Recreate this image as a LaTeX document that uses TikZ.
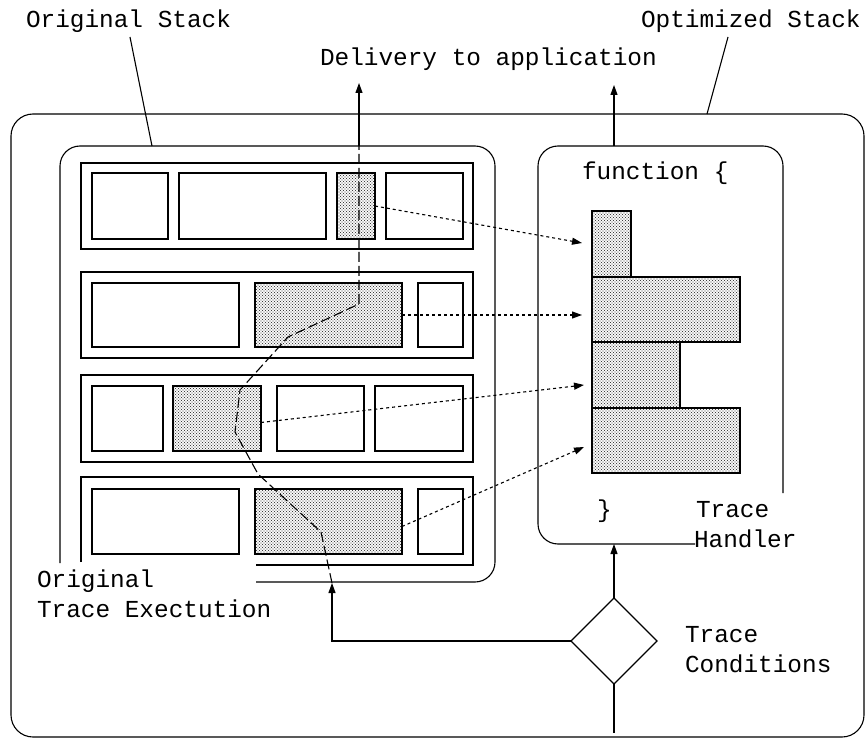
\documentclass[tikz,border=0pt]{standalone}
\usepackage{fontspec}
\setmainfont{Liberation Mono}
\usetikzlibrary{arrows.meta,shapes.geometric,patterns,fit}
\pgfdeclarepatternformonly{stipple}{\pgfqpoint{-0.7pt}{-0.7pt}}{\pgfqpoint{3.7pt}{3.7pt}}{\pgfqpoint{3pt}{3pt}}{%
  \pgfpathcircle{\pgfqpoint{0pt}{0pt}}{0.55pt}%
  \pgfpathcircle{\pgfqpoint{1.5pt}{1.5pt}}{0.55pt}%
  \pgfusepath{fill}}
\begin{document}
\begin{tikzpicture}[x=1pt,y=-1pt,
  line width=1.1pt,
  every node/.style={inner sep=0pt,outer sep=0pt},
  lbl/.style={anchor=base west,font=\fontsize{24.4}{30}\selectfont},
  box/.style={draw,fill=white},
  shd/.style={draw,pattern=stipple,pattern color=black!75},
  arr/.style={-{Triangle[length=10pt,width=7pt]}},
  dotarr/.style={arr,dash pattern=on 3pt off 3pt},
  trace/.style={dash pattern=on 10pt off 4pt},
]
\useasboundingbox (0,0) rectangle (867,738);

% outer frame
\node[draw,rounded corners=22pt,fit={(11,114)(864,737)}] (outer) {};

% original stack container (open at bottom left)
\draw[rounded corners=20pt] (60,563) -- (60,146) -- (495,146) -- (495,582) -- (256,582);
% trace handler container (open at bottom right)
\draw[rounded corners=20pt] (783,493) -- (783,146) -- (538,146) -- (538,544) -- (695,544);

% row frames
\node[draw,fit={(81,163)(473,249)}] (row1) {};
\node[draw,fit={(81,272)(473,358)}] (row2) {};
\node[draw,fit={(81,375)(473,462)}] (row3) {};
\draw (81,562) -- (81,477) -- (473,477) -- (473,565) -- (256,565);

% row 1
\node[box,fit={(92,173)(168,239)}] (r1a) {};
\node[box,fit={(179,173)(326,239)}] (r1b) {};
\node[shd,fit={(337,173)(375,239)}] (r1c) {};
\node[box,fit={(386,173)(463,239)}] (r1d) {};
% row 2
\node[box,fit={(92,283)(239,347)}] (r2a) {};
\node[shd,fit={(255,283)(402,347)}] (r2b) {};
\node[box,fit={(418,283)(463,347)}] (r2c) {};
% row 3
\node[box,fit={(92,386)(163,451)}] (r3a) {};
\node[shd,fit={(173,386)(261,451)}] (r3b) {};
\node[box,fit={(277,386)(364,451)}] (r3c) {};
\node[box,fit={(375,386)(463,451)}] (r3d) {};
% row 4
\node[box,fit={(92,489)(239,554)}] (r4a) {};
\node[shd,fit={(255,489)(402,554)}] (r4b) {};
\node[box,fit={(418,489)(463,554)}] (r4c) {};

% optimized blocks
\node[shd,fit={(592,211)(631,277)}] (b1) {};
\node[shd,fit={(592,277)(740,342)}] (b2) {};
\node[shd,fit={(592,342)(680,408)}] (b3) {};
\node[shd,fit={(592,408)(740,473)}] (b4) {};

% labels
\node[lbl] (lOS) at (26,28) {Original Stack};
\node[lbl] (lDel) at (320,66) {Delivery to application};
\node[lbl] (lOpt) at (641,28) {Optimized Stack};
\node[lbl] (lFn) at (582,180) {function \{};
\node[lbl] (lBr) at (597,517) {\}};
\node[lbl] (lTH1) at (696,517) {Trace};
\node[lbl] (lTH2) at (694,547) {Handler};
\node[lbl] (lTC1) at (685,642) {Trace};
\node[lbl] (lTC2) at (685,672) {Conditions};
\node[lbl] (lOT1) at (37,587) {Original};
\node[lbl] (lOT2) at (37,617) {Trace Exectution};

% coordinates
\coordinate (osLs) at (130,37);
\coordinate (osL) at (152,146);
\coordinate (opLs) at (728,37);
\coordinate (opL) at (707,114);
\coordinate (osTop) at (359,146);
\coordinate (dlvTip) at (359,83);
\coordinate (hTop) at (614,146);
\coordinate (hTip) at (614,85);
\coordinate (hBot) at (614,544);
\coordinate (condIn) at (614,733);
\coordinate (execEnd) at (332,583);
\coordinate (t1) at (582,243);
\coordinate (t2) at (582,315);
\coordinate (t3) at (584,385);
\coordinate (t4) at (584,447);

% leader lines
\draw (osLs) -- (osL);
\draw (opLs) -- (opL);

% trace conditions
\node[draw,diamond,minimum width=86pt,minimum height=86pt] (cond) at (614,641) {};
\draw[arr] (cond.north) -- (hBot);
\draw (cond.south) -- (condIn);
\draw[arr] (cond.west) -| (execEnd);

% delivery arrows
\draw[arr] (osTop) -- (dlvTip);
\draw[arr] (hTop) -- (hTip);

% original trace execution
\draw[trace] (execEnd) -- (321,532) -- (258,474) -- (235,432) -- (240,390) -- (288,337) -- (359,304) -- (osTop);

% mapping arrows
\draw[dotarr] (r1c.east) -- (t1);
\draw[dotarr] (r2b.east) -- (t2);
\draw[dotarr] ([yshift=-4pt]r3b.east) -- (t3);
\draw[dotarr] ([yshift=-5pt]r4b.east) -- (t4);
\end{tikzpicture}
\end{document}
